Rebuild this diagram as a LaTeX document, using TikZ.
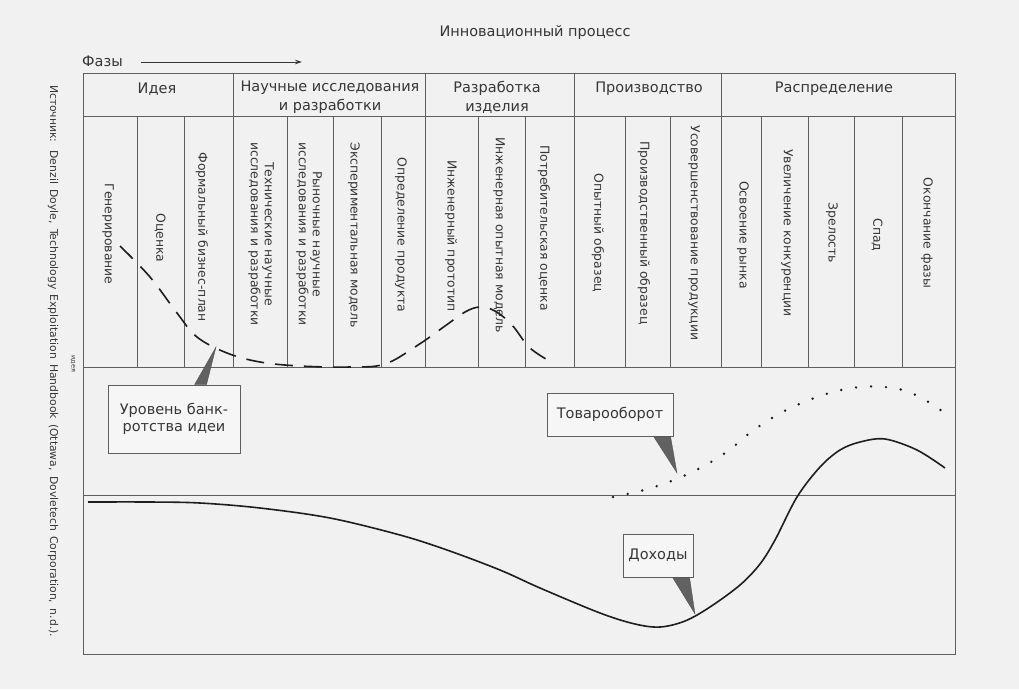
\documentclass[tikz,border=0pt]{standalone}
\usepackage{fontspec}
\setmainfont{DejaVu Sans}
\usetikzlibrary{arrows.meta,calc}
\definecolor{bg}{RGB}{241,241,241}
\definecolor{boxbg}{RGB}{246,246,246}
\definecolor{ln}{RGB}{95,95,95}
\definecolor{tx}{RGB}{55,55,55}
\definecolor{crv}{RGB}{30,30,30}
\begin{document}
\begin{tikzpicture}[x=1pt,y=-1pt,
  every node/.style={text=tx, inner sep=0pt},
  hd/.style={font=\fontsize{14.5}{19}\selectfont, align=center},
  vlab/.style={rotate=-90, font=\fontsize{12.4}{14}\selectfont, align=center},
  cbox/.style={draw=ln, line width=0.9pt, fill=boxbg, font=\fontsize{14.5}{17}\selectfont, align=center},
  ptr/.style={fill=black!62, draw=black!70, line width=0.3pt},
  tbl/.style={draw=ln, line width=0.9pt},
  curve/.style={draw=crv, line width=1.6pt},
]
\fill[bg] (0,0) rectangle (1019,689);
\useasboundingbox (0,0) rectangle (1019,689);

% title and phases arrow
\node[hd] (title) at (535,32) {Инновационный процесс};
\node[hd, anchor=west] (phases) at (82,61) {Фазы};
\coordinate (arrEnd) at (302,62);
\draw[draw=tx, line width=0.8pt, -{Stealth[length=7pt,width=4.5pt]}] ($(phases.east)+(18,1)$) -- (arrEnd);

% table
\draw[tbl] (83,73) rectangle (955,654);
\draw[tbl] (83,116) -- (955,116);
\draw[tbl] (83,367) -- (955,367);
\draw[tbl] (83,495) -- (955,495);
\foreach \x in {233,425,574,721} \draw[tbl] (\x,73) -- (\x,367);
\foreach \x in {137,184,287,333,381,478,525,625,670,761,808,854,902} \draw[tbl] (\x,116) -- (\x,367);

% phase headers
\node[hd] (p1) at (157,89) {Идея};
\node[hd] (p2) at (330,97) {Научные исследования\\и разработки};
\node[hd] (p3) at (497,97) {Разработка\\изделия};
\node[hd] (p4) at (649,89) {Производство};
\node[hd] (p5) at (834,89) {Распределение};

% stage labels
\node[vlab] (s1) at (108,234) {Генерирование};
\node[vlab] (s2) at (160,238) {Оценка};
\node[vlab] (s3) at (202,237) {Формальный бизнес-план};
\node[vlab] (s4) at (261,234) {Технические научные\\исследования и разработки};
\node[vlab] (s5) at (309,234) {Рыночные научные\\исследования и разработки};
\node[vlab] (s6) at (354,235) {Экспериментальная модель};
\node[vlab] (s7) at (401,235) {Определение продукта};
\node[vlab] (s8) at (451,236) {Инженерный прототип};
\node[vlab] (s9) at (499,235) {Инженерная опытная модель};
\node[vlab] (s10) at (544,228) {Потребительская оценка};
\node[vlab] (s11) at (598,233) {Опытный образец};
\node[vlab] (s12) at (644,233) {Производственный образец};
\node[vlab] (s13) at (694,233) {Усовершенствование продукции};
\node[vlab] (s14) at (743,235) {Освоение рынка};
\node[vlab] (s15) at (787,233) {Увеличение конкуренции};
\node[vlab] (s16) at (832,233) {Зрелость};
\node[vlab] (s17) at (877,235) {Спад};
\node[vlab] (s18) at (927,233) {Окончание фазы};

% source note
\node[rotate=-90, font=\fontsize{10.8}{12}\selectfont] (src) at (53,361)
  {\makebox[552pt][s]{Источник: Denzil Doyle, Technology Exploitation Handbook (Ottawa, Dovletech Corporation, n.d.).}};
\node[rotate=-90, font=\fontsize{6.5}{7}\selectfont] (idea) at (73,364) {идея};

% curves
\draw[curve, dash pattern=on 18pt off 11pt] plot[smooth, tension=0.6] coordinates {
  (120,246) (150,277) (177,313) (197,337) (227,353) (260,362) (300,366)
  (350,367) (385,364) (418,345) (445,326) (465,312) (480,307) (495,311)
  (512,325) (530,348) (553,363)};

\draw[crv, line width=2.7pt, line cap=round, dash pattern=on 0pt off 15pt]
  plot[smooth, tension=0.6] coordinates {
  (613,497) (644,490) (674,480) (702,467) (728,451) (751,432) (777,415)
  (804,402) (833,392) (860,387) (885,387) (909,392) (935,406) (947,416)};

\draw[curve] plot[smooth, tension=0.55] coordinates {
  (88,502) (150,502) (200,503) (260,508) (330,518) (400,535) (447,550)
  (500,570) (540,588) (600,613) (635,624) (660,627) (685,621) (710,607)
  (740,585) (760,564) (775,540) (797,497) (820,467) (840,450) (860,442)
  (885,439) (917,450) (945,468)};

% callouts
\coordinate (t1) at (216,347);
\coordinate (t2) at (677,473);
\coordinate (t3) at (695,614);
\node[cbox, minimum width=132pt, minimum height=68pt] (b1) at (174,419) {Уровень банк-\\ротства идеи};
\node[cbox, minimum width=126pt, minimum height=43pt] (b2) at (610,414.5) {Товарооборот};
\node[cbox, minimum width=70pt, minimum height=43pt] (b3) at (658,555.5) {Доходы};
\fill[ptr] ($(b1.north west)+(87,0)$) -- (t1) -- ($(b1.north west)+(99,0)$) -- cycle;
\fill[ptr] ($(b2.south west)+(107,0)$) -- (t2) -- ($(b2.south west)+(124,0)$) -- cycle;
\fill[ptr] ($(b3.south west)+(50,0)$) -- (t3) -- ($(b3.south west)+(67,0)$) -- cycle;
\end{tikzpicture}
\end{document}
